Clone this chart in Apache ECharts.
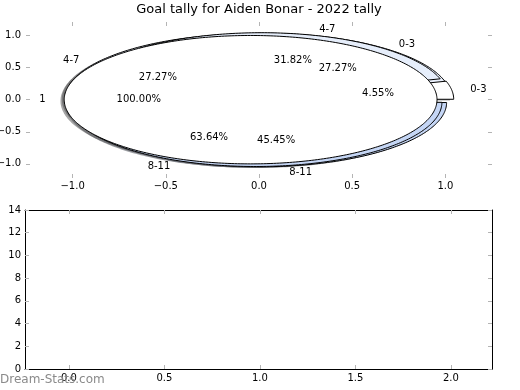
<!DOCTYPE html>
<html><head><meta charset="utf-8">
<script src="https://cdn.jsdelivr.net/npm/echarts@6/dist/echarts.min.js"></script>
<style>html,body{margin:0;padding:0;background:#fff}#c{width:520px;height:390px}</style>
</head><body><div id="c"></div>
<script>
// ---- data ----
const chartTitle = 'Goal tally for Aiden Bonar - 2022 tally';
const pieZLabels = ['1'];
const pieZValues = [22];
const pieXLabels = ['0-3', '4-7', '8-11'];
const pieXValues = [6, 6, 10];
const pieYLabels = ['0-3', '4-7', '8-11'];
const pieYValues = [1, 7, 14];
const pieAxisXTicks = [-1.0, -0.5, 0.0, 0.5, 1.0];
const pieAxisYTicks = [-1.0, -0.5, 0.0, 0.5, 1.0];
const barAxisXTicks = [0.0, 0.5, 1.0, 1.5, 2.0];
const barAxisYTicks = [0, 2, 4, 6, 8, 10, 12, 14];
const watermark = 'Dream-Stats.com';

// ---- styles ----
const FONT = 'DejaVu Sans, sans-serif';
const TICK_GRAY = '#b4b4b4';
const EXPLODE = 0.045;
const styleZ = { colors: ['#ffffff'] };
const styleX = { colors: ['#eaf0fc', '#e6eefb', '#c5d6f5'] };
const styleY = { colors: ['#ffffff', '#e6eefb', '#c5d6f5'] };
const LABEL_D = 1.1, PCT_D = 0.6, RADIUS = 1.0;

function fmt(v) { return (v < 0 ? '\u2212' : '') + Math.abs(v).toFixed(1); }

function shade(hex) {
  const n = parseInt(hex.slice(1), 16);
  const r = (n >> 16) & 255, g = (n >> 8) & 255, b = n & 255;
  return 'rgba(' + Math.round(r * 0.3) + ',' + Math.round(g * 0.3) + ',' + Math.round(b * 0.3) + ',0.5)';
}

function wedgePoints(api, cx, cy, r, a0, a1) {
  const n = Math.max(2, Math.ceil(Math.abs(a1 - a0)));
  const pts = [];
  for (let k = 0; k <= n; k++) {
    const a = (a0 + (a1 - a0) * k / n) * Math.PI / 180;
    pts.push(api.coord([cx + r * Math.cos(a), cy + r * Math.sin(a)]));
  }
  if ((a1 - a0) < 359.999) pts.push(api.coord([cx, cy]));
  return pts;
}

function sliceList(values) {
  const total = values.reduce((a, b) => a + b, 0);
  let acc = 0;
  return values.map((v, i) => {
    const a0 = acc / total * 360; acc += v; const a1 = acc / total * 360;
    return { a0, a1, v, i, total };
  });
}

function makePie(values, st, z, mode) {
  const slices = sliceList(values);
  return {
    type: 'custom', coordinateSystem: 'cartesian2d', xAxisIndex: 0, yAxisIndex: 0,
    z: z, silent: true, clip: false,
    data: values.map((v, i) => [0, 0, i]),
    encode: { x: 0, y: 1 },
    renderItem(params, api) {
      const s = slices[params.dataIndex];
      const m = (s.a0 + s.a1) / 2 * Math.PI / 180;
      const cx = EXPLODE * Math.cos(m), cy = EXPLODE * Math.sin(m);
      if (mode === 'shadow') {
        return { type: 'polygon',
          shape: { points: wedgePoints(api, cx - 0.02, cy - 0.02, RADIUS, s.a0, s.a1) },
          style: { fill: shade(st.colors[s.i]) } };
      }
      return { type: 'polygon',
        shape: { points: wedgePoints(api, cx, cy, RADIUS, s.a0, s.a1) },
        style: { fill: st.colors[s.i], stroke: '#000', lineWidth: 1 } };
    }
  };
}

function makePieText(values, labels, z) {
  const slices = sliceList(values);
  return {
    type: 'custom', coordinateSystem: 'cartesian2d', xAxisIndex: 0, yAxisIndex: 0,
    z: z, silent: true, clip: false,
    data: values.map((v, i) => [0, 0, i]),
    encode: { x: 0, y: 1 },
    renderItem(params, api) {
      const s = slices[params.dataIndex];
      const m = (s.a0 + s.a1) / 2 * Math.PI / 180;
      const cx = EXPLODE * Math.cos(m), cy = EXPLODE * Math.sin(m);
      const lx = cx + LABEL_D * RADIUS * Math.cos(m), ly = cy + LABEL_D * RADIUS * Math.sin(m);
      const lp = api.coord([lx, ly]);
      const pp = api.coord([cx + PCT_D * RADIUS * Math.cos(m), cy + PCT_D * RADIUS * Math.sin(m)]);
      return { type: 'group', children: [
        { type: 'text', x: lp[0], y: lp[1],
          style: { text: labels[s.i], font: '10px ' + FONT, fill: '#000',
            align: lx > 0 ? 'left' : 'right', verticalAlign: 'middle' } },
        { type: 'text', x: pp[0], y: pp[1],
          style: { text: (s.v / s.total * 100).toFixed(2) + '%', font: '10px ' + FONT, fill: '#000',
            align: 'center', verticalAlign: 'middle' } }
      ] };
    }
  };
}

const tickStyle = { show: true, inside: true, length: 4, lineStyle: { color: TICK_GRAY, width: 1 } };
const labelStyle = { color: '#000', fontFamily: FONT, fontSize: 10 };
const hiddenLine = { show: false, onZero: false };
const frameLine = { show: true, onZero: false, lineStyle: { color: '#000', width: 1 } };

const chart = echarts.init(document.getElementById('c'), null, { renderer: 'canvas' });
chart.setOption({
  animation: false,
  backgroundColor: '#fff',
  grid: [
    { left: 26, top: 22, width: 466, height: 156, containLabel: false, outerBoundsMode: 'none' },
    { left: 25, top: 210, width: 467, height: 159, containLabel: false, outerBoundsMode: 'none' }
  ],
  xAxis: [
    { gridIndex: 0, type: 'value', min: -1.25, max: 1.25, position: 'bottom',
      axisLine: hiddenLine, splitLine: { show: false },
      axisTick: Object.assign({ customValues: pieAxisXTicks }, tickStyle),
      axisLabel: Object.assign({ customValues: pieAxisXTicks, formatter: fmt, margin: 3 }, labelStyle) },
    { gridIndex: 0, type: 'value', min: -1.25, max: 1.25, position: 'top',
      axisLine: hiddenLine, splitLine: { show: false },
      axisTick: Object.assign({ customValues: pieAxisXTicks }, tickStyle),
      axisLabel: { show: false } },
    { gridIndex: 1, type: 'value', min: -0.23, max: 2.215, position: 'bottom',
      axisLine: frameLine, splitLine: { show: false },
      axisTick: Object.assign({ customValues: barAxisXTicks }, tickStyle),
      axisLabel: Object.assign({ customValues: barAxisXTicks, formatter: fmt, margin: 4 }, labelStyle) },
    { gridIndex: 1, type: 'value', min: -0.23, max: 2.215, position: 'top',
      axisLine: frameLine, splitLine: { show: false },
      axisTick: Object.assign({ customValues: barAxisXTicks }, tickStyle),
      axisLabel: { show: false } }
  ],
  yAxis: [
    { gridIndex: 0, type: 'value', min: -1.22, max: 1.21, position: 'left',
      axisLine: hiddenLine, splitLine: { show: false },
      axisTick: Object.assign({ customValues: pieAxisYTicks }, tickStyle),
      axisLabel: Object.assign({ customValues: pieAxisYTicks, formatter: fmt, margin: 5 }, labelStyle) },
    { gridIndex: 0, type: 'value', min: -1.22, max: 1.21, position: 'right',
      axisLine: hiddenLine, splitLine: { show: false },
      axisTick: Object.assign({ customValues: pieAxisYTicks }, tickStyle),
      axisLabel: { show: false } },
    { gridIndex: 1, type: 'value', min: 0, max: 14, interval: 2, position: 'left',
      axisLine: frameLine, splitLine: { show: false },
      axisTick: Object.assign({ customValues: barAxisYTicks }, tickStyle),
      axisLabel: Object.assign({ customValues: barAxisYTicks, margin: 4 }, labelStyle) },
    { gridIndex: 1, type: 'value', min: 0, max: 14, interval: 2, position: 'right',
      axisLine: frameLine, splitLine: { show: false },
      axisTick: Object.assign({ customValues: barAxisYTicks }, tickStyle),
      axisLabel: { show: false } }
  ],
  series: [
    makePie(pieXValues, styleX, 1, 'shadow'),
    makePie(pieYValues, styleY, 1, 'shadow'),
    makePie(pieZValues, styleZ, 1, 'shadow'),
    makePie(pieXValues, styleX, 2, 'wedge'),
    makePie(pieYValues, styleY, 3, 'wedge'),
    makePie(pieZValues, styleZ, 4, 'wedge'),
    makePieText(pieXValues, pieXLabels, 5),
    makePieText(pieYValues, pieYLabels, 5),
    makePieText(pieZValues, pieZLabels, 5)
  ],
  graphic: [
    { type: 'text', x: 259, y: 10, z: 100,
      style: { text: chartTitle, font: '13px ' + FONT, fill: '#000', align: 'center', verticalAlign: 'middle' } },
    { type: 'text', x: 0, y: 380, z: 100,
      style: { text: watermark, font: '12px ' + FONT, fill: '#8a8a8a', align: 'left', verticalAlign: 'middle' } }
  ]
});
</script>
</body></html>
